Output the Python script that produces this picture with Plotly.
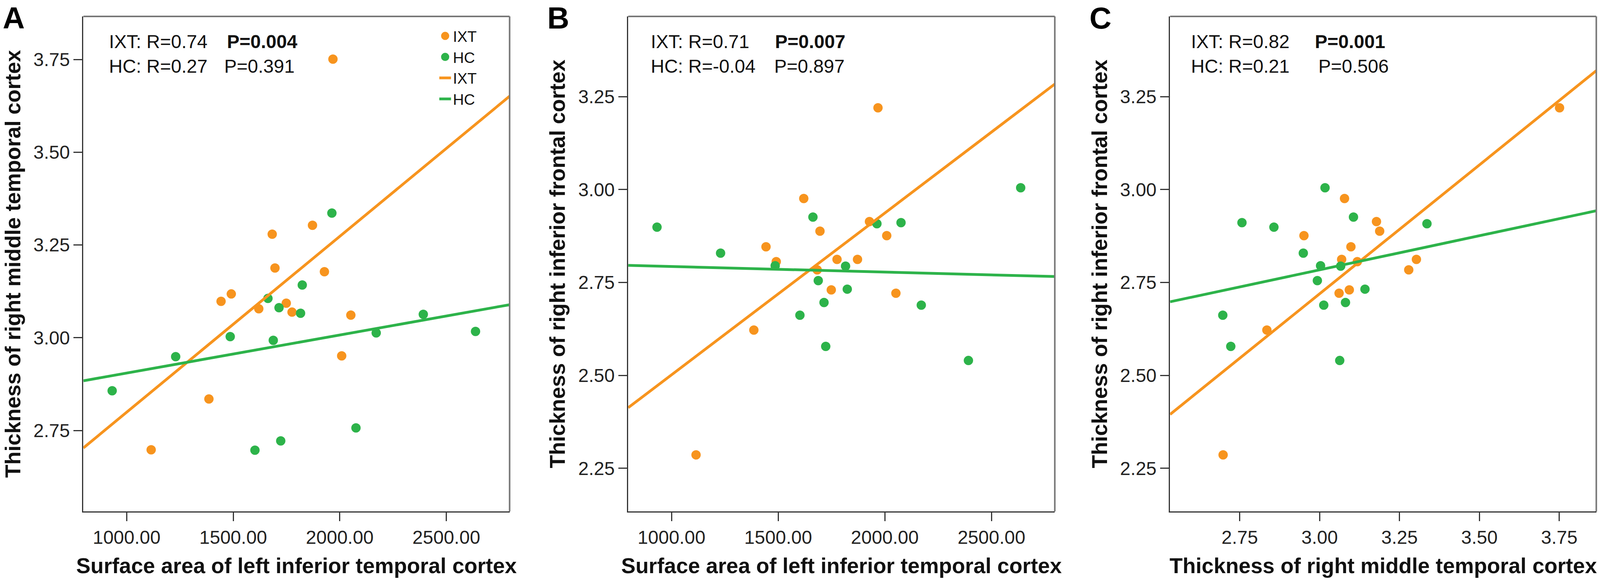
import plotly.graph_objects as go
from plotly.subplots import make_subplots

# one value per subject
# IXT group
ixt_sa = [1968, 1872, 1683, 1696, 1928, 1491, 1443, 1620, 1749, 1776, 2052, 2009, 1386, 1115]
ixt_mtc = [3.751, 3.303, 3.279, 3.188, 3.178, 3.118, 3.098, 3.078, 3.093, 3.069, 3.061, 2.951, 2.835, 2.698]
ixt_ifc = [3.220, 2.812, 2.784, 2.888, 2.914, 2.806, 2.846, 2.976, 2.730, 2.812, 2.721, 2.876, 2.622, 2.286]

# HC group
hc_sa = [932, 1230, 1486, 1663, 1963, 2076, 1688, 1816, 1824, 1715, 1602, 2171, 1723, 2392, 2637]
hc_mtc = [2.857, 2.949, 3.003, 3.106, 3.336, 2.757, 2.993, 3.066, 3.142, 3.081, 2.697, 3.013, 2.722, 3.063, 3.017]
hc_ifc = [2.899, 2.829, 2.795, 2.926, 2.908, 2.911, 2.755, 2.794, 2.732, 2.696, 2.662, 2.689, 2.578, 2.540, 3.005]

# axis ranges
sa_range = [797, 2797]
mtc_range = [2.532, 3.866]
ifc_range = [2.134, 3.466]

# fit lines, value at both ends of the x axis
fit_ixt = [[2.703, 3.651], [2.413, 3.284], [2.395, 3.320]]
fit_hc = [[2.884, 3.089], [2.796, 2.766], [2.698, 2.943]]

# stats text
ixt_stats = ["IXT: R=0.74", "IXT: R=0.71", "IXT: R=0.82"]
ixt_p = ["P=0.004", "P=0.007", "P=0.001"]
hc_stats = ["HC: R=0.27", "HC: R=-0.04", "HC: R=0.21"]
hc_p = ["P=0.391", "P=0.897", "P=0.506"]

letters = ["A", "B", "C"]
x_titles = ["Surface area of left inferior temporal cortex",
            "Surface area of left inferior temporal cortex",
            "Thickness of right middle temporal cortex"]
y_titles = ["Thickness of right middle temporal cortex",
            "Thickness of right inferior frontal cortex",
            "Thickness of right inferior frontal cortex"]
sa_ticks = [1000, 1500, 2000, 2500]
thick_ticks = [2.25, 2.50, 2.75, 3.00, 3.25, 3.50, 3.75]

ORANGE = "#F7941E"
GREEN = "#2DB34A"
FONT = "Liberation Sans, Arial, sans-serif"
W, H = 4317, 1504  # reference picture, used for the domains

panels = [
    (ixt_sa, ixt_mtc, hc_sa, hc_mtc, sa_range, mtc_range),
    (ixt_sa, ixt_ifc, hc_sa, hc_ifc, sa_range, ifc_range),
    (ixt_mtc, ixt_ifc, hc_mtc, hc_ifc, mtc_range, ifc_range),
]

fig = make_subplots(rows=1, cols=3)

for i, (x1, y1, x2, y2, xr, yr) in enumerate(panels):
    col = i + 1
    leg = i == 0
    fig.add_trace(go.Scatter(x=x1, y=y1, mode="markers", name="IXT", showlegend=leg,
                             marker=dict(color=ORANGE, size=19, line=dict(color=ORANGE, width=5))),
                  row=1, col=col)
    fig.add_trace(go.Scatter(x=x2, y=y2, mode="markers", name="HC", showlegend=leg,
                             marker=dict(color=GREEN, size=19, line=dict(color=GREEN, width=5))),
                  row=1, col=col)
    fig.add_trace(go.Scatter(x=xr, y=fit_ixt[i], mode="lines", name="IXT", showlegend=leg,
                             line=dict(color=ORANGE, width=7)),
                  row=1, col=col)
    fig.add_trace(go.Scatter(x=xr, y=fit_hc[i], mode="lines", name="HC", showlegend=leg,
                             line=dict(color=GREEN, width=7)),
                  row=1, col=col)

# plot boxes in pixels of the reference
boxes = [(225, 1375), (1695, 2846), (3157, 4307)]
box_top, box_bottom = 42, 1308
axis_style = dict(showline=True, linecolor="#333", linewidth=3, mirror=False,
                  ticks="outside", ticklen=22, tickwidth=3, tickcolor="#333",
                  showgrid=False, zeroline=False, tickformat=".2f",
                  tickfont=dict(family=FONT, size=48, color="#222"))

for i, (x1, y1, x2, y2, xr, yr) in enumerate(panels):
    left, right = boxes[i]
    xt = sa_ticks if i < 2 else thick_ticks
    fig.update_xaxes(row=1, col=i + 1, range=xr, tickvals=xt,
                     domain=[left / W, right / W],
                     title=dict(text="<b>%s</b>" % x_titles[i], standoff=28,
                                font=dict(family=FONT, size=55, color="#111")),
                     **axis_style)
    fig.update_yaxes(row=1, col=i + 1, range=yr, tickvals=thick_ticks,
                     domain=[1 - box_bottom / H, 1 - box_top / H],
                     title=dict(text="<b>%s</b>" % y_titles[i], standoff=16,
                                font=dict(family=FONT, size=55, color="#111")),
                     **axis_style)

# stats text, panel letters and the lighter top/right frame
p_pos = [(0.058, 0.335, 0.329), (0.051, 0.342, 0.340), (0.047, 0.338, 0.346)]
for i in range(3):
    sfx = "" if i == 0 else str(i + 1)
    xref = "x%s domain" % sfx
    yref = "y%s domain" % sfx
    tx, p1, p2 = p_pos[i]
    for text, xx, yy in [(ixt_stats[i], tx, 0.949), ("<b>%s</b>" % ixt_p[i], p1, 0.949),
                         (hc_stats[i], tx, 0.899), (hc_p[i], p2, 0.899)]:
        fig.add_annotation(text=text, xref=xref, yref=yref, x=xx, y=yy,
                           xanchor="left", yanchor="middle", showarrow=False,
                           font=dict(family=FONT, size=48, color="#111"))
    fig.add_annotation(text="<b>%s</b>" % letters[i], xref="paper", yref="paper",
                       x=(boxes[i][0] - 220) / W, y=1.0, xanchor="left", yanchor="top",
                       showarrow=False, font=dict(family=FONT, size=78, color="#000"))
    frame = dict(color="#777", width=4)
    fig.add_shape(type="line", xref=xref, yref=yref, x0=0, x1=1, y0=1, y1=1, line=frame)
    fig.add_shape(type="line", xref=xref, yref=yref, x0=1, x1=1, y0=0, y1=1, line=frame)

fig.update_layout(
    margin=dict(l=0, r=0, t=0, b=0),
    paper_bgcolor="white", plot_bgcolor="white",
    font=dict(family=FONT, color="#111"),
    legend=dict(x=1180 / W, y=1 - 60 / H, xanchor="left", yanchor="top",
                font=dict(family=FONT, size=39, color="#111"),
                bgcolor="rgba(0,0,0,0)", tracegroupgap=0),
)

# fill the whole window, without the default page margin
post = """
document.body.style.margin = '0px';
var gd = document.getElementById('{plot_id}');
gd.style.width = '100vw';
gd.style.height = '100vh';
Plotly.Plots.resize(gd);
"""
fig.write_html("out.html", default_width="100vw", default_height="100vh",
               config={"displayModeBar": False}, post_script=post)
